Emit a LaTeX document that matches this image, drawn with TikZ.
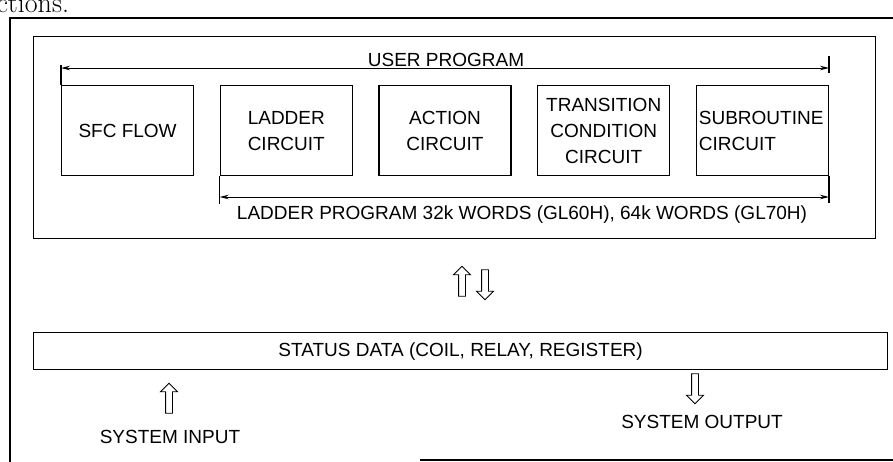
\documentclass[tikz,border=0pt]{standalone}
\usepackage{fontspec}
\usepackage{xcolor}
\usepackage{tikz}
\usetikzlibrary{arrows.meta,positioning,shapes.arrows}
\newfontfamily\helv{Liberation Sans}
\newcommand\diagfont{\helv\fontsize{19}{26}\selectfont}

\begin{document}
\begin{tikzpicture}[
            x=1pt,y=-1pt,
            node distance=25.5pt,
            line width=1.2pt,
            block/.style={draw,align=center,inner sep=2pt,minimum width=132pt,minimum height=90pt,font=\diagfont},
            lbl/.style={inner sep=0pt,font=\diagfont},
            dim/.style={{Stealth[length=9pt,width=4.5pt]}-{Stealth[length=9pt,width=4.5pt]},line width=1pt},
            hollow/.style={draw,single arrow,line width=0.9pt,inner sep=3pt,minimum width=16pt,minimum height=30pt,single arrow head extend=5pt}
        ]
            \useasboundingbox (0,0) rectangle (893,461);
            \clip (0,0) rectangle (893,461);
            \node[anchor=base west,inner sep=0pt,font=\rmfamily\fontsize{28}{28}\selectfont] (pagetext) at (-4,12) {ctions.};
            % outer frame, cut by the page
            \draw (905,18) -- (10,18) -- (10,470);
            \draw (420,460) -- (905,460);
            \node[draw,anchor=north west,minimum width=842pt,minimum height=202pt] (userprog) at (33,36) {};
            \node[block,anchor=north west] (sfc) at (61,85) {SFC FLOW};
            \node[block,right=of sfc] (ladder) {LADDER\\CIRCUIT};
            \node[block,right=of ladder] (action) {ACTION\\CIRCUIT};
            \node[block,right=of action] (trans) {TRANSITION\\CONDITION\\CIRCUIT};
            \node[block,right=of trans,align=left,text width=127pt] (sub) {SUBROUTINE\\CIRCUIT};
            % dimension lines
            \coordinate (upline) at (0,68);
            \coordinate (ldline) at (0,197);
            \draw[dim] (sfc.north west |- upline) -- (sub.north east |- upline);
            \draw (sfc.north west) -- +(0,-20);
            \draw (sub.north east |- upline) +(0,-12) -- +(0,5);
            \node[lbl,anchor=base] (upname) at (446,66) {USER PROGRAM};
            \draw[dim] (ladder.south west |- ldline) -- (sub.south east |- ldline);
            \draw (ladder.south west) -- +(0,28);
            \draw (sub.south east) -- +(0,27);
            \node[lbl,anchor=base] (ldname) at (522,219) {LADDER PROGRAM 32k WORDS (GL60H), 64k WORDS (GL70H)};
            \node[hollow,rotate=90] (toup) at (462,283) {};
            \node[hollow,rotate=-90] (todown) at (485,283) {};
            \node[draw,anchor=north west,minimum width=854pt,minimum height=37pt,font=\diagfont] (status) at (33,332) {STATUS DATA (COIL, RELAY, REGISTER)};
            \node[hollow,rotate=90] (inarrow) at (169,400) {};
            \node[lbl,anchor=base] (inname) at (170,443) {SYSTEM INPUT};
            \node[hollow,rotate=-90] (outarrow) at (695,387) {};
            \node[lbl,anchor=base] (outname) at (702,428) {SYSTEM OUTPUT};
        \end{tikzpicture}
\end{document}
